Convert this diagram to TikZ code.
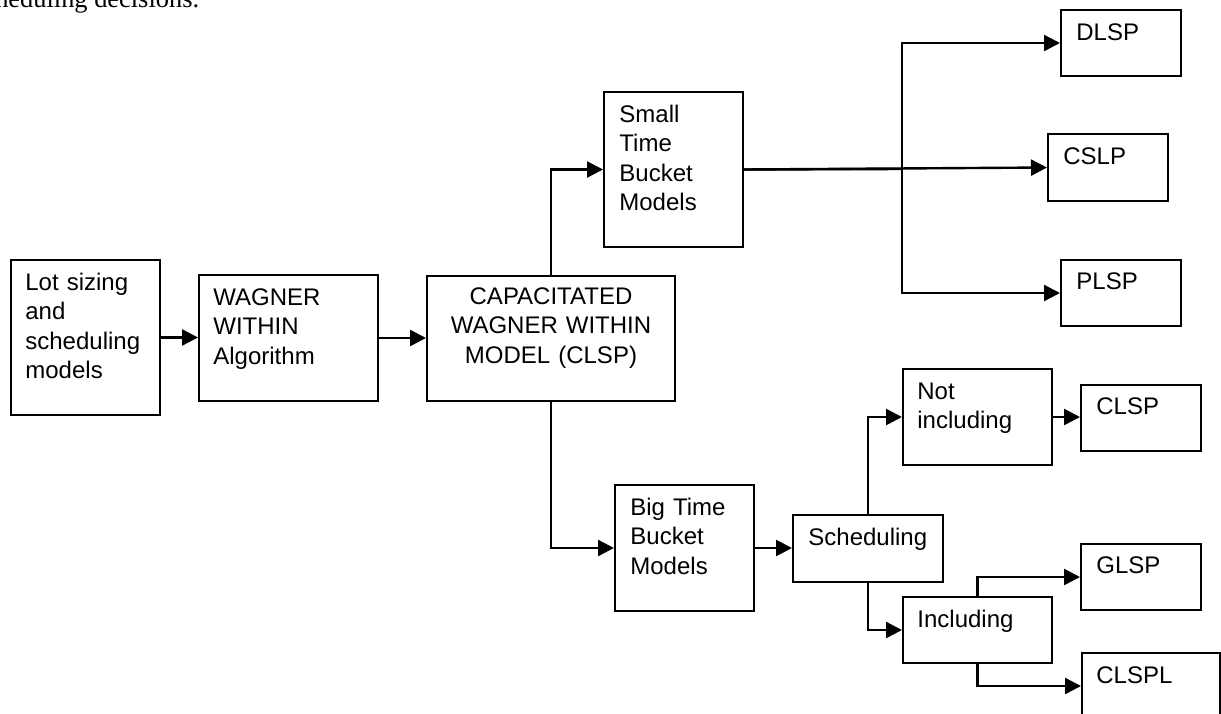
\documentclass[tikz,border=0pt]{standalone}
\usepackage{fontspec}
\setmainfont{Liberation Sans}
\newfontfamily\bodyserif{Liberation Serif}
\usetikzlibrary{arrows.meta,fit,calc}

\tikzset{
  box/.style={draw=black, line width=1pt, inner sep=0pt, fill=white},
  lbl/.style={inner sep=0pt, text width=120pt, align=left, anchor=base west,
              font=\fontsize{12}{14.75}\selectfont},
  clbl/.style={lbl, align=center, anchor=base},
  link/.style={draw=black, line width=1.2pt,
               -{Triangle[length=8pt,width=8pt]}},
  wire/.style={draw=black, line width=1.2pt}
}

\begin{document}
\begin{tikzpicture}[x=0.5pt, y=-0.5pt]
  % page frame
  \clip (0,0) rectangle (1221,713);
  \fill[white] (0,0) rectangle (1221,713);

  % tail of the preceding sentence, cut by the top edge
  \node[inner sep=0pt, anchor=base east, font=\bodyserif\fontsize{13.2}{15}\selectfont]
    (prev) at (199.5,7) {scheduling decisions.};

  % boxes
  \node[box, fit={(11,260) (160,415)}]   (lot)    {};
  \node[box, fit={(199,275) (378,401)}]  (wag)    {};
  \node[box, fit={(427,276) (675,401)}]  (cap)    {};
  \node[box, fit={(604,92) (743,247)}]   (small)  {};
  \node[box, fit={(615,485) (754,611)}]  (big)    {};
  \node[box, fit={(1061,10) (1181,76)}]  (dlsp)   {};
  \node[box, fit={(1048,134) (1168,201)}] (cslp)  {};
  \node[box, fit={(1061,260) (1181,326)}] (plsp)  {};
  \node[box, fit={(793,515) (943,582)}]  (sched)  {};
  \node[box, fit={(903,369) (1052,465)}] (notinc) {};
  \node[box, fit={(1081,385) (1201,451)}] (clsp)  {};
  \node[box, fit={(903,597) (1052,663)}] (inc)    {};
  \node[box, fit={(1081,544) (1201,610)}] (glsp)  {};
  \node[box, fit={(1082,653) (1220,719)}] (clspl) {};

  % box texts
  \node[lbl]  (lot-t)    at (25,290)   {Lot sizing\\and\\scheduling\\models};
  \node[lbl]  (wag-t)    at (213,305)  {WAGNER\\WITHIN\\Algorithm};
  \node[clbl] (cap-t)    at (551,304)  {CAPACITATED\\WAGNER WITHIN\\MODEL (CLSP)};
  \node[lbl]  (small-t)  at (619,122)  {Small\\Time\\Bucket\\Models};
  \node[lbl]  (big-t)    at (630,515)  {Big Time\\Bucket\\Models};
  \node[lbl]  (dlsp-t)   at (1076,40)  {DLSP};
  \node[lbl]  (cslp-t)   at (1063,164) {CSLP};
  \node[lbl]  (plsp-t)   at (1076,289) {PLSP};
  \node[lbl]  (sched-t)  at (808,545)  {Scheduling};
  \node[lbl]  (notinc-t) at (917,399)  {Not\\including};
  \node[lbl]  (clsp-t)   at (1096,414) {CLSP};
  \node[lbl]  (inc-t)    at (917,627)  {Including};
  \node[lbl]  (glsp-t)   at (1096,573) {GLSP};
  \node[lbl]  (clspl-t)  at (1096,683) {CLSPL};

  % main chain
  \draw[link] (lot.east) -- (lot.east -| wag.west);
  \draw[link] (wag.east) -- (wag.east -| cap.west);
  \draw[link] (cap.north) |- (small.west);
  \draw[link] (cap.south) |- (big.west);

  % small time bucket branch
  \coordinate (fork) at (902,169);
  \draw[wire] (small.east) -- (fork);
  \draw[link] (small.east) -- (cslp.west);
  \draw[link] (fork) |- (dlsp.west);
  \draw[link] (fork) |- (plsp.west);

  % big time bucket branch
  \draw[link] (big.east) -- (big.east -| sched.west);
  \draw[link] (sched.north) |- (notinc.west);
  \draw[link] (sched.south) |- (inc.west);
  \draw[link] (notinc.east) -- (notinc.east -| clsp.west);
  \draw[link] (inc.north) |- (glsp.west);
  \draw[link] (inc.south) |- (clspl.west);
\end{tikzpicture}
\end{document}
